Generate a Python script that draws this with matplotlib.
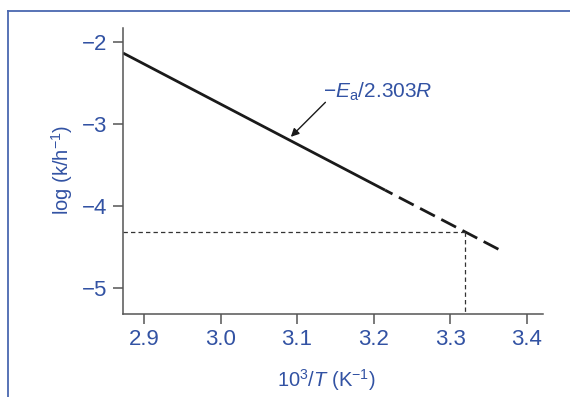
import matplotlib
matplotlib.use("Agg")
import matplotlib.pyplot as plt
from matplotlib.lines import Line2D

# Arrhenius plot data
solid_x = [2.8725, 3.215]
solid_y = [-2.138, -3.81]
extrap_x = [3.215, 3.365]
extrap_y = [-3.81, -4.54]
read_x = 3.32
read_y = -4.317

x_ticks = [2.9, 3.0, 3.1, 3.2, 3.3, 3.4]
x_tick_labels = ["2.9", "3.0", "3.1", "3.2", "3.3", "3.4"]
y_ticks = [-2, -3, -4, -5]
y_tick_labels = ["\u22122", "\u22123", "\u22124", "\u22125"]

XMIN, XMAX = 2.8725, 3.4213
YMIN, YMAX = -5.32, -1.833

BLUE = "#3252a3"
FRAME = "#4a68b0"
SPINE = "#555555"

plt.rcParams["font.family"] = ["Liberation Sans", "DejaVu Sans"]
plt.rcParams["mathtext.fontset"] = "custom"
plt.rcParams["mathtext.rm"] = "Liberation Sans"
plt.rcParams["mathtext.it"] = "Liberation Sans:italic"

fig = plt.figure(figsize=(5.7, 3.97), dpi=100)
ax = fig.add_axes([0.2158, 0.2091, 0.9526 - 0.2158, 0.9295 - 0.2091])

ax.plot(solid_x, solid_y, color="#1a1a1a", lw=2.0, solid_capstyle="butt")
# extrapolated part starts with a gap
ax.plot(extrap_x, extrap_y, color="#1a1a1a", lw=2.0, dash_capstyle="butt",
        linestyle=(3.0, (6, 2.6)))
ax.plot([XMIN, read_x], [read_y, read_y], color="#333333", lw=0.9, dashes=(3.5, 2.5))
ax.plot([read_x, read_x], [read_y, YMIN], color="#333333", lw=0.9, dashes=(3.5, 2.5))

ax.set_xlim(XMIN, XMAX)
ax.set_ylim(YMIN, YMAX)
ax.set_xticks(x_ticks)
ax.set_xticklabels(x_tick_labels)
ax.set_yticks(y_ticks)
ax.set_yticklabels(y_tick_labels)

for side in ("top", "right"):
    ax.spines[side].set_visible(False)
for side in ("left", "bottom"):
    ax.spines[side].set_color(SPINE)
    ax.spines[side].set_linewidth(1.1)
ax.tick_params(axis="both", direction="out", length=7.5, width=1.1, color=SPINE,
               labelcolor=BLUE, labelsize=16)
ax.tick_params(axis="x", pad=3.5)
ax.tick_params(axis="y", pad=3.5)

fig.text(326 / 570, 1 - 380 / 397, "10$^{3}$/$T$ (K$^{\u22121}$)", color=BLUE,
         fontsize=14.5, ha="center", va="center")
fig.text(62 / 570, 1 - 170 / 397, "log (k/h$^{\u22121}$)", color=BLUE,
         fontsize=14.5, ha="center", va="center", rotation=90)

ax.text(3.1336, -2.613, "\u2212$E_{\\mathrm{a}}$/2.303$R$", color=BLUE,
        fontsize=15, ha="left", va="center")
ax.annotate("", xy=(3.0918, -3.16), xytext=(3.137, -2.739),
            arrowprops=dict(arrowstyle="-|>", color="#1a1a1a", lw=1.0,
                            mutation_scale=12, shrinkA=0, shrinkB=0))

# blue frame on left and top
fig.add_artist(Line2D([8 / 570, 8 / 570], [0, 1 - 11 / 397], transform=fig.transFigure,
                      color=FRAME, lw=1.3))
fig.add_artist(Line2D([8 / 570, 1], [1 - 11 / 397, 1 - 11 / 397], transform=fig.transFigure,
                      color=FRAME, lw=1.3))

fig.savefig("out.png", dpi=100)
